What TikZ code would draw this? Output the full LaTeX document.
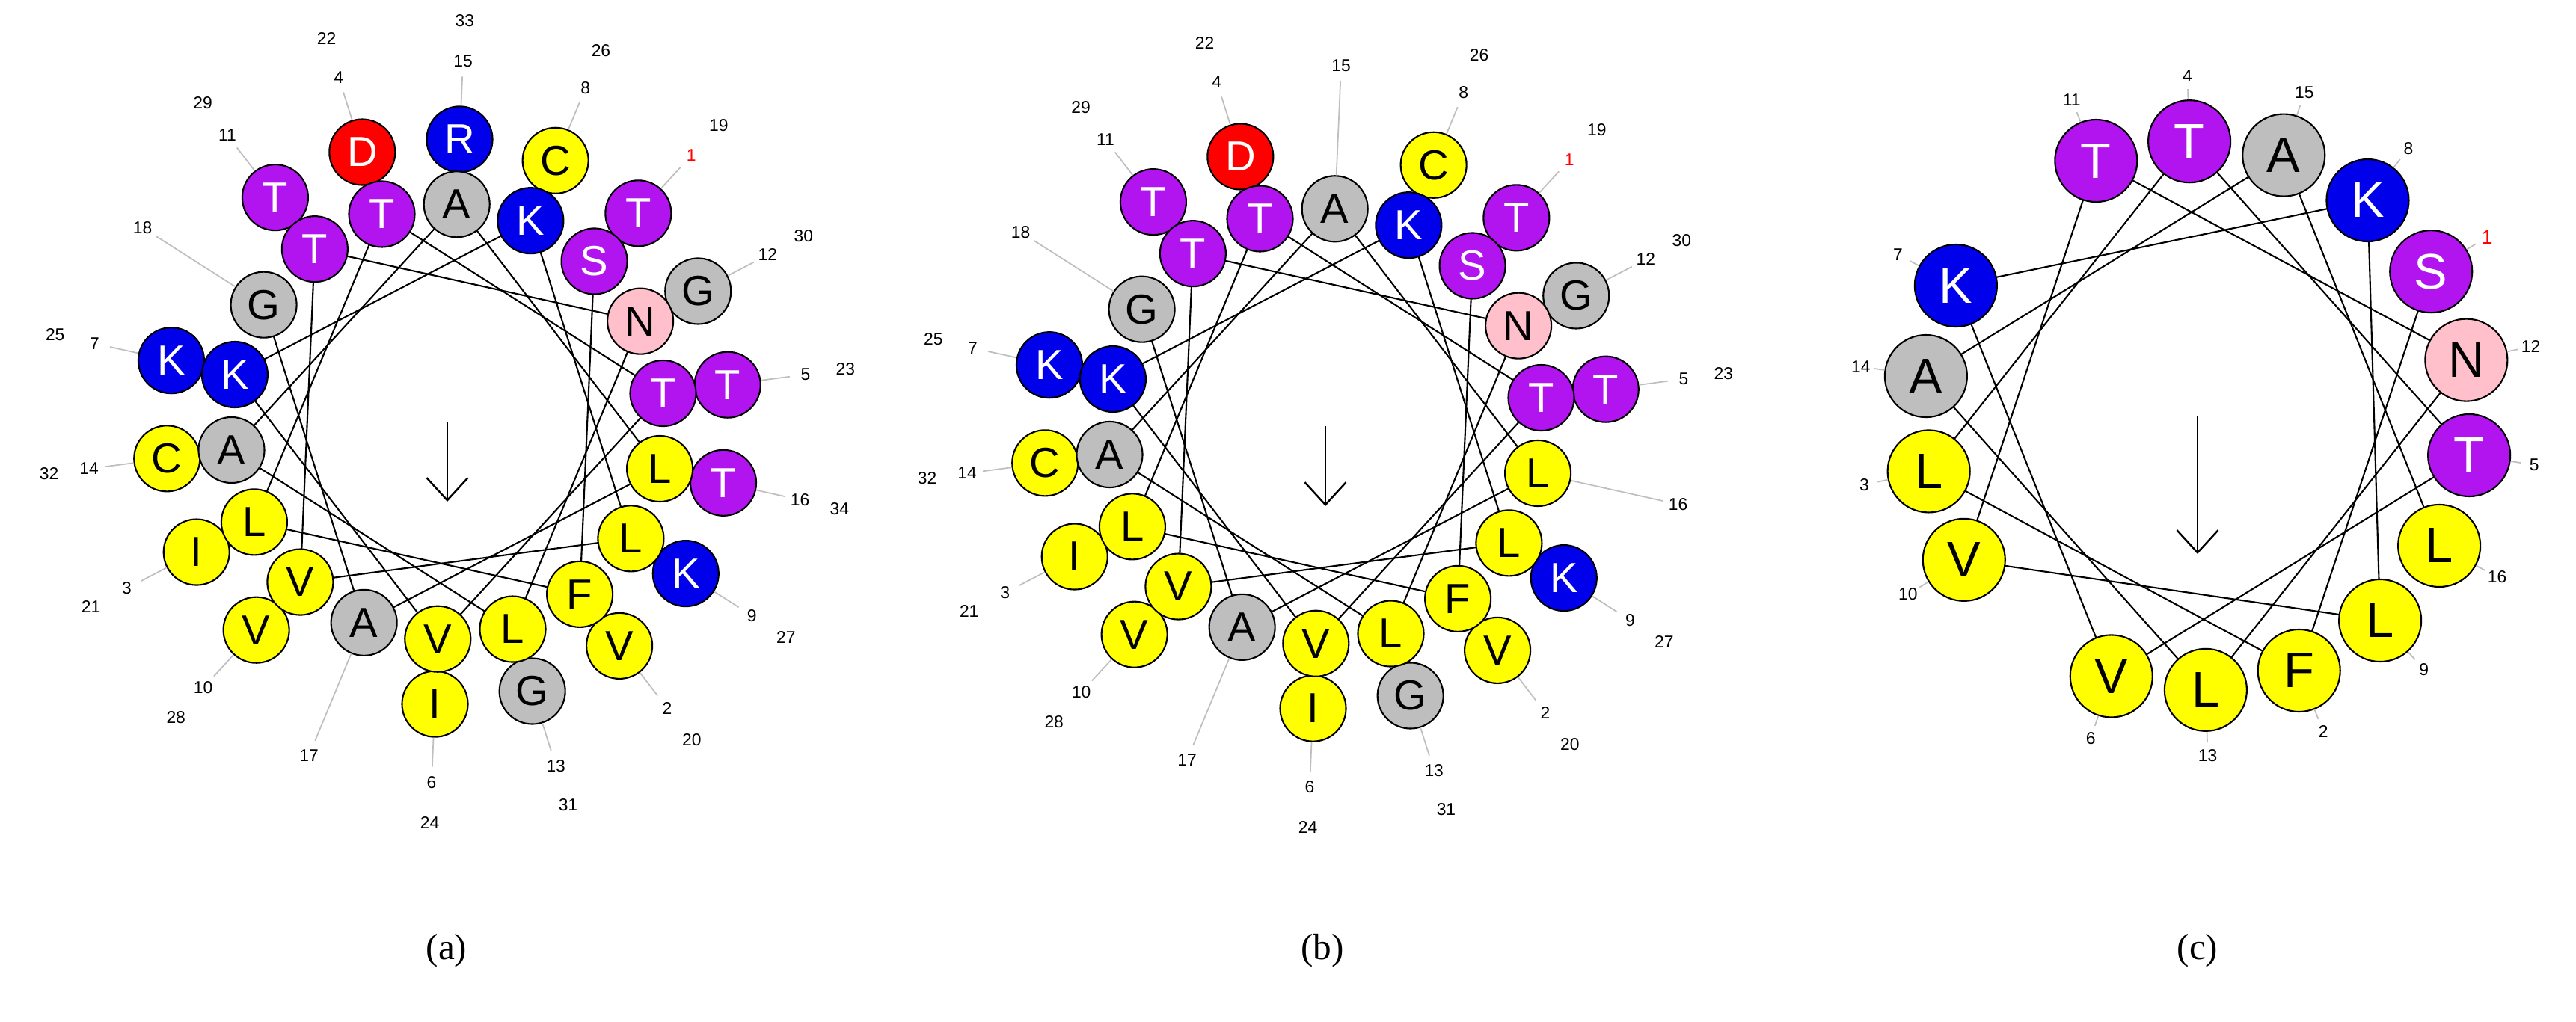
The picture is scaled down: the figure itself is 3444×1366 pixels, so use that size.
\documentclass[tikz,border=0pt]{standalone}
\usepackage{fontspec}
\setmainfont{Liberation Serif}
\newfontfamily\wheelfont{Liberation Sans}
\usetikzlibrary{arrows.meta}

\definecolor{respurple}{RGB}{178,20,240}
\definecolor{resyellow}{RGB}{255,255,0}
\definecolor{resblue}{RGB}{0,0,235}
\definecolor{resgray}{RGB}{190,190,190}
\definecolor{resred}{RGB}{255,0,0}
\definecolor{respink}{RGB}{255,192,203}

\tikzset{
  res/.style={circle,draw=black,line width=0.6pt,minimum size=#1,inner sep=0pt,
    font=\wheelfont\fontsize{16}{16}\selectfont},
  bigres/.style={res=#1,font=\wheelfont\fontsize{19}{19}\selectfont},
  pur/.style={fill=respurple,text=white},
  yel/.style={fill=resyellow,text=black},
  blu/.style={fill=resblue,text=white},
  gry/.style={fill=resgray,text=black},
  red/.style={fill=resred,text=white},
  pnk/.style={fill=respink,text=black},
  chord/.style={draw=black,line width=0.6pt},
  tick/.style={draw=black!25,line width=0.5pt},
  num/.style={font=\wheelfont\fontsize{6.5}{6.5}\selectfont,inner sep=0pt},
  axis/.style={line width=0.7pt,-{Straight Barb[length=0.3cm,width=0.55cm]}},
  caption/.style={font=\fontsize{14}{14}\selectfont}
}

\begin{document}
\begin{tikzpicture}[x=0.01cm,y=0.01cm]
\useasboundingbox (0,0) rectangle (3444,-1366);

% (a)
\begin{scope}[shift={(598,-564)}]
  \foreach \n/\r [evaluate=\n as \ang using {47.5-100*(\n-1)}] in
    {1/378,2/378,3/378,4/378,5/378,6/378,7/378,8/378,9/378,10/378,11/378,12/378,
     13/378,14/378,15/378,16/378,17/291,18/291,19/291,20/291,21/291,22/291,23/291,
     24/291,25/291,26/291,27/291,28/291,29/291,30/291,31/291,32/291,33/291,34/291}
    \coordinate (pa\n) at (\ang:\r);
  \foreach \x/\y in {19/20,20/21,21/22,22/23,23/24,24/25,25/26,26/27,27/28,28/29,
     29/30,30/31,31/32,32/33,33/34,34/17,17/18}
    \draw[chord] (pa\x) -- (pa\y);
  \foreach \n/\l/\s in
    {1/T/pur,2/V/yel,3/I/yel,4/D/red,5/T/pur,6/I/yel,7/K/blu,8/C/yel,9/K/blu,
     10/V/yel,11/T/pur,12/G/gry,13/G/gry,14/C/yel,15/R/blu,16/T/pur,17/A/gry,
     18/G/gry,19/S/pur,20/F/yel,21/L/yel,22/T/pur,23/T/pur,24/V/yel,25/K/blu,
     26/K/blu,27/L/yel,28/V/yel,29/T/pur,30/N/pnk,31/L/yel,32/A/gry,33/A/gry,34/L/yel}
    \node[res=0.88cm,\s] (ra\n) at (pa\n) {\l};
  \foreach \n [evaluate=\n as \ang using {47.5-100*(\n-1)}] in {1,...,18}
    \draw[tick] (ra\n) -- (\ang:462);
  \node[num,text=red] at (47.5:483) {1};
  \foreach \n [evaluate=\n as \ang using {47.5-100*(\n-1)}] in {2,...,18}
    \node[num] at (\ang:483) {\n};
  \foreach \n [evaluate=\n as \ang using {47.5-100*(\n-1)}] in {19,...,34}
    \node[num] at (\ang:537) {\n};
  \coordinate (ca) at (0,0);
  \coordinate (ea) at (0,-107);
  \draw[axis] (ca) -- (ea);
\end{scope}

% (b)
\begin{scope}[shift={(1772,-570)}]
  \foreach \n/\r [evaluate=\n as \ang using {47.5-100*(\n-1)}] in
    {1/378,2/378,3/378,4/378,5/378,6/378,7/378,8/378,9/378,10/378,11/378,12/378,
     13/378,14/378,15/291,16/291,17/291,18/291,19/291,20/291,21/291,22/291,23/291,
     24/291,25/291,26/291,27/291,28/291,29/291,30/291,31/291,32/291}
    \coordinate (pb\n) at (\ang:\r);
  \foreach \x/\y in {19/20,20/21,21/22,22/23,23/24,24/25,25/26,26/27,27/28,28/29,
     29/30,30/31,31/32,32/15,15/16,16/17,17/18}
    \draw[chord] (pb\x) -- (pb\y);
  \foreach \n/\l/\s in
    {1/T/pur,2/V/yel,3/I/yel,4/D/red,5/T/pur,6/I/yel,7/K/blu,8/C/yel,9/K/blu,
     10/V/yel,11/T/pur,12/G/gry,13/G/gry,14/C/yel,15/A/gry,16/L/yel,17/A/gry,
     18/G/gry,19/S/pur,20/F/yel,21/L/yel,22/T/pur,23/T/pur,24/V/yel,25/K/blu,
     26/K/blu,27/L/yel,28/V/yel,29/T/pur,30/N/pnk,31/L/yel,32/A/gry}
    \node[res=0.88cm,\s] (rb\n) at (pb\n) {\l};
  \foreach \n [evaluate=\n as \ang using {47.5-100*(\n-1)}] in {1,...,18}
    \draw[tick] (rb\n) -- (\ang:462);
  \node[num,text=red] at (47.5:483) {1};
  \foreach \n [evaluate=\n as \ang using {47.5-100*(\n-1)}] in {2,...,18}
    \node[num] at (\ang:483) {\n};
  \foreach \n [evaluate=\n as \ang using {47.5-100*(\n-1)}] in {19,...,32}
    \node[num] at (\ang:537) {\n};
  \coordinate (cb) at (0,0);
  \coordinate (eb) at (0,-107);
  \draw[axis] (cb) -- (eb);
\end{scope}

% (c)
\begin{scope}[shift={(2938,-556)}]
  \foreach \n [evaluate=\n as \ang using {31.7-100*(\n-1)}] in {1,...,16}
    \coordinate (pc\n) at (\ang:367);
  \foreach \n [evaluate=\n as \m using int(\n+1)] in {1,...,15}
    \draw[chord] (pc\n) -- (pc\m);
  \foreach \n/\l/\s in
    {1/S/pur,2/F/yel,3/L/yel,4/T/pur,5/T/pur,6/V/yel,7/K/blu,8/K/blu,
     9/L/yel,10/V/yel,11/T/pur,12/N/pnk,13/L/yel,14/A/gry,15/A/gry,16/L/yel}
    \node[bigres=1.1cm,\s] (rc\n) at (pc\n) {\l};
  \foreach \n [evaluate=\n as \ang using {31.7-100*(\n-1)}] in {1,...,16}
    \draw[tick] (rc\n) -- (\ang:437);
  \node[num,text=red,font=\wheelfont\fontsize{7.5}{7.5}\selectfont] at (31.7:455) {1};
  \foreach \n [evaluate=\n as \ang using {31.7-100*(\n-1)}] in {2,...,16}
    \node[num] at (\ang:455) {\n};
  \coordinate (cc) at (0,0);
  \coordinate (ec) at (0,-185);
  \draw[axis] (cc) -- (ec);
\end{scope}

\node[caption] (capa) at (597,-1272) {(a)};
\node[caption] (capb) at (1768,-1272) {(b)};
\node[caption] (capc) at (2938,-1272) {(c)};
\end{tikzpicture}
\end{document}
